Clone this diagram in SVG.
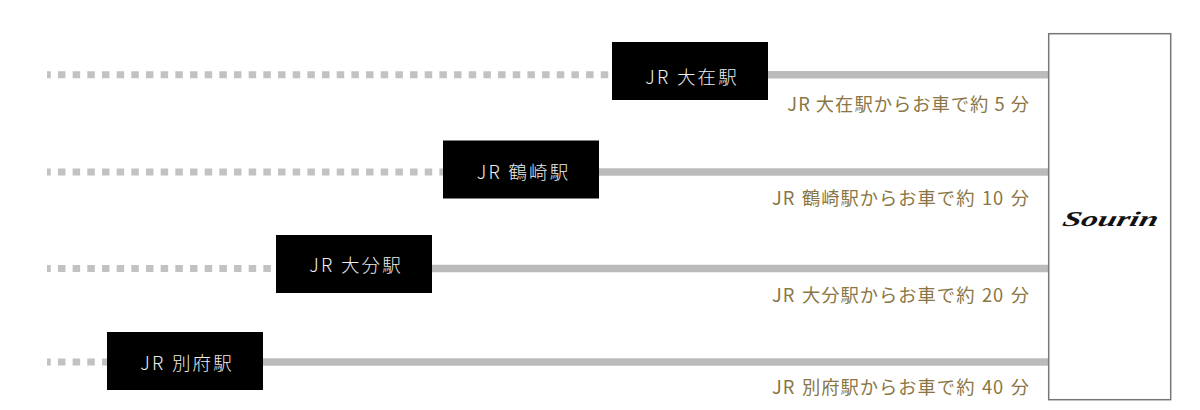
<svg xmlns="http://www.w3.org/2000/svg" width="1200" height="410" viewBox="0 0 1200 410">
<style>
.dot{stroke:#c2c2c2;stroke-width:7;stroke-dasharray:7.5 7.17;fill:none}
.sol{stroke:#bbbbbb;stroke-width:7.5;fill:none}
.st{fill:#000}
.stt{fill:#eeeeee;font-family:"Noto Sans CJK JP","Noto Sans",sans-serif;font-size:18.5px;font-weight:300;letter-spacing:2.1px;word-spacing:0.5px;text-anchor:middle}
.lab{fill:#8a7645;font-family:"Noto Sans CJK JP","Noto Sans",sans-serif;font-size:18.3px;font-weight:400;text-anchor:end;letter-spacing:1px}
.wide{word-spacing:1.4px}
</style>
<rect width="1200" height="410" fill="#fff"/>
<g id="connectors">
<line class="dot" x1="47" y1="74.8" x2="612" y2="74.8" stroke-dashoffset="3.7"/>
<line class="sol" x1="768" y1="74.8" x2="1048" y2="74.8"/>
<line class="dot" x1="47" y1="172" x2="443" y2="172" stroke-dashoffset="3.7"/>
<line class="sol" x1="599" y1="172" x2="1048" y2="172"/>
<line class="dot" x1="47" y1="268.5" x2="276" y2="268.5" stroke-dashoffset="3.7"/>
<line class="sol" x1="432" y1="268.5" x2="1048" y2="268.5"/>
<line class="dot" x1="47" y1="362" x2="107" y2="362" stroke-dashoffset="3.7"/>
<line class="sol" x1="263" y1="362" x2="1048" y2="362"/>
</g>
<g id="oozai"><rect class="st" x="612" y="42" width="156" height="58"/><text class="stt" x="692" y="83.5">JR 大在駅</text><text class="lab" x="1030" y="111">JR 大在駅からお車で約 5 分</text></g>
<g id="tsurusaki"><rect class="st" x="443" y="140.5" width="156" height="58"/><text class="stt" x="523.5" y="178.5">JR 鶴崎駅</text><text class="lab wide" x="1030" y="204.5">JR 鶴崎駅からお車で約 10 分</text></g>
<g id="oita"><rect class="st" x="276" y="235" width="156" height="58"/><text class="stt" x="356" y="272">JR 大分駅</text><text class="lab wide" x="1030" y="301.5">JR 大分駅からお車で約 20 分</text></g>
<g id="beppu"><rect class="st" x="107" y="332" width="156" height="58"/><text class="stt" x="187" y="369.5">JR 別府駅</text><text class="lab wide" x="1030" y="393.5">JR 別府駅からお車で約 40 分</text></g>
<g id="sourin"><rect x="1048.7" y="33.7" width="122" height="366" fill="#fff" stroke="#777" stroke-width="1.5"/>
<text transform="translate(1109 226) skewX(-14) scale(1.6 1)" x="0" y="0" text-anchor="middle" font-family="Liberation Serif,serif" font-style="italic" font-weight="700" font-size="21" fill="#111">Sourin</text></g>
</svg>
